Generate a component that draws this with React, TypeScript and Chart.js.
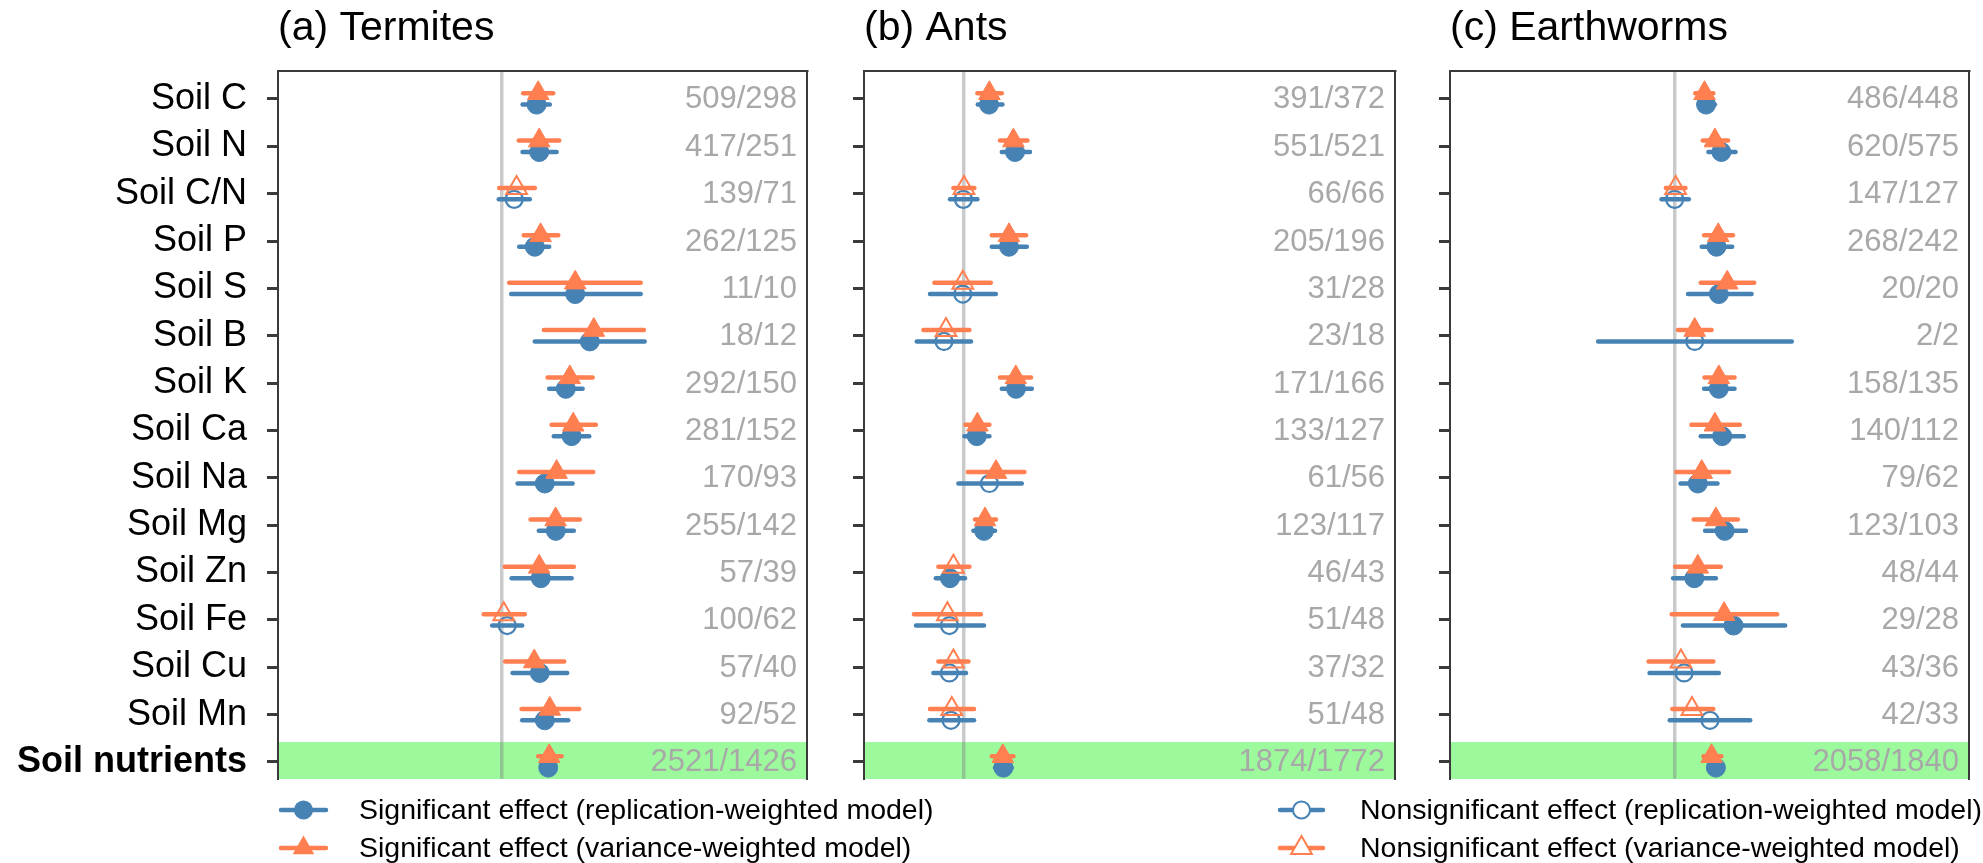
import React, { useEffect, useRef } from 'react';
import { Chart, registerables } from 'chart.js';

Chart.register(...registerables);

const FONT = "'Liberation Sans', Arial, Helvetica, sans-serif";
const BLUE = '#4682B4';
const ORANGE = '#FF7F50';
const AXIS = '#3A3A3A';
const ZERO = 'rgba(128,128,128,0.42)';
const BAND = '#9CFA9C';
const COUNT = '#A8A8A8';

const rowLabels = ['Soil C', 'Soil N', 'Soil C/N', 'Soil P', 'Soil S', 'Soil B', 'Soil K', 'Soil Ca', 'Soil Na', 'Soil Mg', 'Soil Zn', 'Soil Fe', 'Soil Cu', 'Soil Mn', 'Soil nutrients'];
const panelTitles = ['(a) Termites', '(b) Ants', '(c) Earthworms'];

// (a) Termites
const termitesVarMean = [0.18, 0.185, 0.072, 0.192, 0.365, 0.458, 0.338, 0.355, 0.272, 0.267, 0.185, 0.008, 0.16, 0.238, 0.235];
const termitesVarLow = [0.105, 0.083, -0.015, 0.108, 0.035, 0.208, 0.227, 0.247, 0.085, 0.142, 0.013, -0.092, 0.015, 0.097, 0.18];
const termitesVarHigh = [0.255, 0.285, 0.163, 0.28, 0.692, 0.708, 0.452, 0.468, 0.455, 0.388, 0.358, 0.113, 0.31, 0.385, 0.297];
const termitesRepMean = [0.172, 0.185, 0.06, 0.163, 0.365, 0.438, 0.318, 0.347, 0.213, 0.268, 0.193, 0.025, 0.188, 0.213, 0.23];
const termitesRepLow = [0.102, 0.102, -0.017, 0.085, 0.045, 0.163, 0.235, 0.258, 0.077, 0.183, 0.047, -0.05, 0.052, 0.1, 0.2];
const termitesRepHigh = [0.238, 0.272, 0.138, 0.235, 0.692, 0.712, 0.402, 0.435, 0.352, 0.358, 0.347, 0.1, 0.325, 0.33, 0.26];
const termitesVarSig = [1, 1, 0, 1, 1, 1, 1, 1, 1, 1, 1, 0, 1, 1, 1];
const termitesRepSig = [1, 1, 0, 1, 1, 1, 1, 1, 1, 1, 1, 0, 1, 1, 1];
const termitesCounts = ['509/298', '417/251', '139/71', '262/125', '11/10', '18/12', '292/150', '281/152', '170/93', '255/142', '57/39', '100/62', '57/40', '92/52', '2521/1426'];

// (b) Ants
const antsVarMean = [0.13, 0.25, 0.003, 0.228, -0.003, -0.087, 0.262, 0.07, 0.163, 0.108, -0.05, -0.08, -0.05, -0.058, 0.197];
const antsVarLow = [0.07, 0.183, -0.05, 0.142, -0.145, -0.2, 0.183, 0.01, 0.022, 0.058, -0.125, -0.247, -0.125, -0.167, 0.142];
const antsVarHigh = [0.192, 0.32, 0.055, 0.313, 0.137, 0.03, 0.338, 0.13, 0.305, 0.163, 0.03, 0.087, 0.025, 0.053, 0.25];
const antsRepMean = [0.128, 0.258, 0, 0.228, -0.003, -0.097, 0.263, 0.067, 0.13, 0.103, -0.067, -0.07, -0.07, -0.062, 0.2];
const antsRepLow = [0.072, 0.192, -0.067, 0.142, -0.167, -0.233, 0.192, 0.005, -0.025, 0.05, -0.138, -0.237, -0.15, -0.17, 0.158];
const antsRepHigh = [0.195, 0.333, 0.07, 0.317, 0.162, 0.038, 0.342, 0.13, 0.292, 0.158, 0.008, 0.103, 0.013, 0.053, 0.242];
const antsVarSig = [1, 1, 0, 1, 0, 0, 1, 1, 1, 1, 0, 0, 0, 0, 1];
const antsRepSig = [1, 1, 0, 1, 0, 0, 1, 1, 0, 1, 1, 0, 0, 0, 1];
const antsCounts = ['391/372', '551/521', '66/66', '205/196', '31/28', '23/18', '171/166', '133/127', '61/56', '123/117', '46/43', '51/48', '37/32', '51/48', '1874/1772'];

// (c) Earthworms
const wormsVarMean = [0.152, 0.205, 0.005, 0.222, 0.268, 0.102, 0.225, 0.205, 0.138, 0.21, 0.118, 0.252, 0.032, 0.088, 0.188];
const wormsVarLow = [0.105, 0.143, -0.045, 0.15, 0.133, 0.017, 0.152, 0.085, 0.008, 0.097, 0.002, -0.015, -0.133, -0.012, 0.147];
const wormsVarHigh = [0.197, 0.272, 0.055, 0.297, 0.405, 0.188, 0.305, 0.332, 0.277, 0.322, 0.235, 0.522, 0.197, 0.197, 0.238];
const wormsRepMean = [0.16, 0.238, 0, 0.213, 0.225, 0.102, 0.225, 0.242, 0.118, 0.255, 0.1, 0.3, 0.048, 0.18, 0.21];
const wormsRepLow = [0.122, 0.172, -0.067, 0.138, 0.068, -0.39, 0.15, 0.133, 0.03, 0.155, -0.008, 0.042, -0.128, -0.025, 0.172];
const wormsRepHigh = [0.205, 0.31, 0.072, 0.293, 0.392, 0.597, 0.305, 0.352, 0.218, 0.363, 0.21, 0.563, 0.225, 0.385, 0.247];
const wormsVarSig = [1, 1, 0, 1, 1, 1, 1, 1, 1, 1, 1, 1, 0, 0, 1];
const wormsRepSig = [1, 1, 0, 1, 1, 0, 1, 1, 1, 1, 1, 1, 0, 0, 1];
const wormsCounts = ['486/448', '620/575', '147/127', '268/242', '20/20', '2/2', '158/135', '140/112', '79/62', '123/103', '48/44', '29/28', '43/36', '42/33', '2058/1840'];

// x-axis extents of each panel (effect-size units)
const xRanges = [[-1.12, 1.523], [-0.497, 2.158], [-1.145, 1.5]];

const legendLabels = [
  'Significant effect (replication-weighted model)',
  'Significant effect (variance-weighted model)',
  'Nonsignificant effect (replication-weighted model)',
  'Nonsignificant effect (variance-weighted model)',
];

const Y_MIN = -0.59;
const Y_MAX = 14.36;
const BAND_FROM = 13.58;
const VAR_OFF = -0.12;
const REP_OFF = 0.12;

const PANEL_H = 850;
const PLOT_TOP = 71;
const PLOT_BOTTOM = 779;

const TRI_FILLED = 12.5;
const TRI_HOLLOW = 12;
const CIR_FILLED = 9.5;
const CIR_HOLLOW = 8.5;

type Spec = {
  title: string;
  varMean: number[]; varLow: number[]; varHigh: number[];
  repMean: number[]; repLow: number[]; repHigh: number[];
  varSig: number[]; repSig: number[]; counts: string[];
  xr: number[];
  canvasLeft: number; canvasWidth: number; yAxisWidth: number; padRight: number; showLabels: boolean;
};

function makeTextPlugin(spec: Spec) {
  return {
    id: 'panelText',
    beforeDraw(chart: any) {
      const { ctx, chartArea } = chart;
      const ys = chart.scales.y;
      const top = ys.getPixelForValue(BAND_FROM);
      ctx.save();
      ctx.fillStyle = BAND;
      ctx.fillRect(chartArea.left, top, chartArea.right - chartArea.left, chartArea.bottom - top);
      ctx.restore();
    },
    afterDraw(chart: any) {
      const { ctx, chartArea } = chart;
      const ys = chart.scales.y;
      ctx.save();
      ctx.fillStyle = '#000';
      ctx.font = `41px ${FONT}`;
      ctx.textAlign = 'left';
      ctx.textBaseline = 'alphabetic';
      ctx.fillText(spec.title, chartArea.left, 40);
      ctx.font = `31px ${FONT}`;
      ctx.fillStyle = COUNT;
      ctx.textAlign = 'right';
      ctx.textBaseline = 'middle';
      spec.counts.forEach((c, i) => {
        ctx.fillText(c, chartArea.right - 10, ys.getPixelForValue(i) + 1);
      });
      ctx.restore();
    },
  };
}

function buildPanel(canvas: HTMLCanvasElement, spec: Spec) {
  const datasets: any[] = [];
  datasets.push({
    label: 'variance',
    data: spec.varMean.map((v, i) => ({ x: v, y: i + VAR_OFF })),
    pointStyle: 'triangle',
    pointRadius: spec.varSig.map((s) => (s ? TRI_FILLED : TRI_HOLLOW)),
    pointBackgroundColor: spec.varSig.map((s) => (s ? ORANGE : 'rgba(255,255,255,0)')),
    pointBorderColor: ORANGE,
    pointBorderWidth: spec.varSig.map((s) => (s ? 1 : 2)),
    showLine: false,
  });
  spec.varLow.forEach((lo, i) => {
    datasets.push({
      label: 'var-ci-' + i,
      data: [{ x: lo, y: i + VAR_OFF }, { x: spec.varHigh[i], y: i + VAR_OFF }],
      showLine: true,
      borderColor: ORANGE,
      borderWidth: 4.5,
      borderCapStyle: 'round',
      pointRadius: 0,
    });
  });
  datasets.push({
    label: 'replication',
    data: spec.repMean.map((v, i) => ({ x: v, y: i + REP_OFF })),
    pointStyle: 'circle',
    pointRadius: spec.repSig.map((s) => (s ? CIR_FILLED : CIR_HOLLOW)),
    pointBackgroundColor: spec.repSig.map((s) => (s ? BLUE : 'rgba(255,255,255,0)')),
    pointBorderColor: BLUE,
    pointBorderWidth: spec.repSig.map((s) => (s ? 1 : 2.2)),
    showLine: false,
  });
  spec.repLow.forEach((lo, i) => {
    datasets.push({
      label: 'rep-ci-' + i,
      data: [{ x: lo, y: i + REP_OFF }, { x: spec.repHigh[i], y: i + REP_OFF }],
      showLine: true,
      borderColor: BLUE,
      borderWidth: 4.5,
      borderCapStyle: 'round',
      pointRadius: 0,
    });
  });

  return new Chart(canvas, {
    type: 'scatter',
    data: { datasets },
    plugins: [makeTextPlugin(spec)],
    options: {
      responsive: false,
      animation: false,
      events: [],
      layout: {
        padding: { left: 0, right: spec.padRight, top: PLOT_TOP, bottom: PANEL_H - PLOT_BOTTOM },
      },
      plugins: { legend: { display: false }, tooltip: { enabled: false }, title: { display: false } },
      scales: {
        x: {
          type: 'linear',
          position: 'top',
          min: spec.xr[0],
          max: spec.xr[1],
          afterBuildTicks: (s: any) => { s.ticks = [{ value: 0 }]; },
          afterFit: (s: any) => { s.height = 0; },
          ticks: { display: false },
          grid: { color: ZERO, lineWidth: 3.5, drawTicks: false },
          border: { display: true, color: AXIS, width: 2 },
        },
        y: {
          type: 'linear',
          position: 'left',
          reverse: true,
          min: Y_MIN,
          max: Y_MAX,
          afterBuildTicks: (s: any) => { s.ticks = rowLabels.map((_, i) => ({ value: i })); },
          afterFit: (s: any) => { s.width = spec.yAxisWidth; },
          ticks: {
            display: spec.showLabels,
            autoSkip: false,
            padding: 20,
            color: '#000',
            font: (c: any) => ({ family: FONT, size: 36, weight: c.index === rowLabels.length - 1 ? 'bold' : 'normal' }),
            callback: (_v: any, i: number) => rowLabels[i],
          },
          grid: { drawOnChartArea: false, drawTicks: true, tickLength: 11, tickColor: AXIS, tickWidth: 3 },
          border: { display: true, color: AXIS, width: 2 },
        },
        y2: {
          type: 'linear',
          position: 'right',
          reverse: true,
          min: Y_MIN,
          max: Y_MAX,
          afterFit: (s: any) => { s.width = 0; },
          ticks: { display: false },
          grid: { display: false, drawTicks: false },
          border: { display: true, color: AXIS, width: 2 },
        },
      },
    } as any,
  });
}

function drawTriangle(ctx: CanvasRenderingContext2D, cx: number, cy: number, r: number) {
  ctx.beginPath();
  ctx.moveTo(cx, cy - r);
  ctx.lineTo(cx + r * Math.cos(Math.PI / 6), cy + r / 2);
  ctx.lineTo(cx - r * Math.cos(Math.PI / 6), cy + r / 2);
  ctx.closePath();
}

const legendPlugin = {
  id: 'legendDraw',
  afterDraw(chart: any) {
    const ctx: CanvasRenderingContext2D = chart.ctx;
    const items = [
      { x0: 281, x1: 326, y: 24, color: BLUE, shape: 'circle', filled: true, tx: 359 },
      { x0: 281, x1: 326, y: 62, color: ORANGE, shape: 'triangle', filled: true, tx: 359 },
      { x0: 1280, x1: 1323, y: 24, color: BLUE, shape: 'circle', filled: false, tx: 1360 },
      { x0: 1280, x1: 1323, y: 62, color: ORANGE, shape: 'triangle', filled: false, tx: 1360 },
    ];
    ctx.save();
    items.forEach((it, k) => {
      ctx.strokeStyle = it.color;
      ctx.lineWidth = 4.5;
      ctx.lineCap = 'round';
      ctx.beginPath();
      ctx.moveTo(it.x0, it.y);
      ctx.lineTo(it.x1, it.y);
      ctx.stroke();
      const cx = (it.x0 + it.x1) / 2;
      if (it.shape === 'circle') {
        ctx.beginPath();
        ctx.arc(cx, it.y, it.filled ? CIR_FILLED : CIR_HOLLOW, 0, Math.PI * 2);
      } else {
        drawTriangle(ctx, cx, it.y, it.filled ? TRI_FILLED : TRI_HOLLOW);
      }
      if (it.filled) {
        ctx.fillStyle = it.color;
        ctx.fill();
      } else {
        ctx.lineWidth = 2;
        ctx.fillStyle = '#fff';
        ctx.fill();
        ctx.stroke();
      }
      ctx.fillStyle = '#000';
      ctx.font = `28.5px ${FONT}`;
      ctx.textAlign = 'left';
      ctx.textBaseline = 'middle';
      ctx.fillText(legendLabels[k], it.tx, it.y + 1);
    });
    ctx.restore();
  },
};

const panelSpecs: Spec[] = [
  {
    title: panelTitles[0],
    varMean: termitesVarMean, varLow: termitesVarLow, varHigh: termitesVarHigh,
    repMean: termitesRepMean, repLow: termitesRepLow, repHigh: termitesRepHigh,
    varSig: termitesVarSig, repSig: termitesRepSig, counts: termitesCounts, xr: xRanges[0],
    canvasLeft: 0, canvasWidth: 830, yAxisWidth: 278, padRight: 23, showLabels: true,
  },
  {
    title: panelTitles[1],
    varMean: antsVarMean, varLow: antsVarLow, varHigh: antsVarHigh,
    repMean: antsRepMean, repLow: antsRepLow, repHigh: antsRepHigh,
    varSig: antsVarSig, repSig: antsRepSig, counts: antsCounts, xr: xRanges[1],
    canvasLeft: 830, canvasWidth: 590, yAxisWidth: 34, padRight: 25, showLabels: false,
  },
  {
    title: panelTitles[2],
    varMean: wormsVarMean, varLow: wormsVarLow, varHigh: wormsVarHigh,
    repMean: wormsRepMean, repLow: wormsRepLow, repHigh: wormsRepHigh,
    varSig: wormsVarSig, repSig: wormsRepSig, counts: wormsCounts, xr: xRanges[2],
    canvasLeft: 1420, canvasWidth: 563, yAxisWidth: 30, padRight: 4, showLabels: false,
  },
];

export default function App() {
  const refA = useRef<HTMLCanvasElement>(null);
  const refB = useRef<HTMLCanvasElement>(null);
  const refC = useRef<HTMLCanvasElement>(null);
  const refL = useRef<HTMLCanvasElement>(null);

  useEffect(() => {
    const refs = [refA, refB, refC];
    const charts: Chart[] = [];
    refs.forEach((r, i) => {
      if (r.current) charts.push(buildPanel(r.current, panelSpecs[i]));
    });
    if (refL.current) {
      charts.push(
        new Chart(refL.current, {
          type: 'scatter',
          data: { datasets: [] },
          plugins: [legendPlugin],
          options: {
            responsive: false,
            animation: false,
            events: [],
            plugins: { legend: { display: false }, tooltip: { enabled: false } },
            scales: { x: { display: false }, y: { display: false } },
          } as any,
        })
      );
    }
    return () => charts.forEach((c) => c.destroy());
  }, []);

  const refsList = [refA, refB, refC];
  return (
    <div style={{ position: 'absolute', left: 0, top: 0, width: 1983, height: 863, background: '#fff', overflow: 'hidden' }}>
      {panelSpecs.map((s, i) => (
        <canvas
          key={i}
          ref={refsList[i]}
          width={s.canvasWidth}
          height={PANEL_H}
          style={{ position: 'absolute', left: s.canvasLeft, top: 0 }}
        />
      ))}
      <canvas ref={refL} width={1983} height={78} style={{ position: 'absolute', left: 0, top: 786 }} />
    </div>
  );
}
